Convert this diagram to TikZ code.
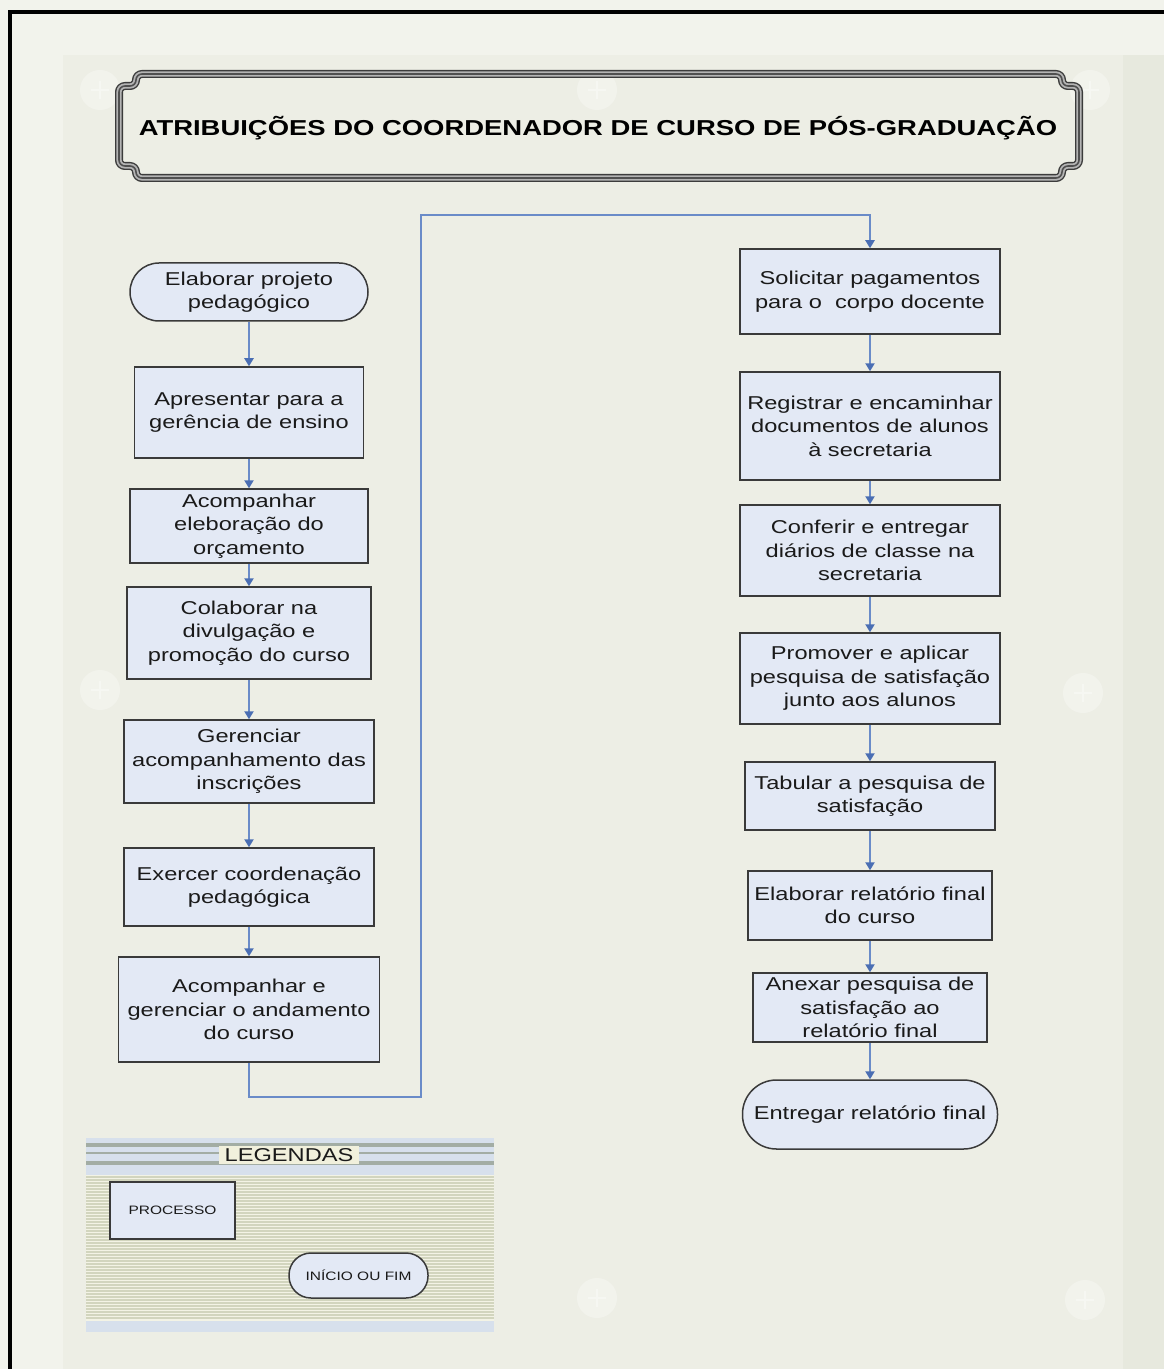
\documentclass[tikz,border=0pt]{standalone}
\usepackage{fontspec}
\setmainfont{Liberation Sans}[FakeStretch=1.27]
\usetikzlibrary{arrows.meta}

\definecolor{bgbase}{HTML}{EDEEE5}
\definecolor{bglight}{HTML}{F2F3EC}
\definecolor{bgdark}{HTML}{E7E9DE}
\definecolor{boxfill}{HTML}{E3E9F5}
\definecolor{boxline}{HTML}{3A3A3A}
\definecolor{txt}{HTML}{1A1A1A}
\definecolor{flow}{HTML}{6A8BC8}
\definecolor{flowtip}{HTML}{4A6EB3}
\definecolor{framedark}{HTML}{3C3C3C}
\definecolor{framelight}{HTML}{B4B4B4}
\definecolor{legband}{HTML}{D7E0EC}
\definecolor{legbandline}{HTML}{A3ADA4}
\definecolor{legpaper}{HTML}{F3F3E5}
\definecolor{legstripe}{HTML}{D2D5BE}
\definecolor{leglabel}{HTML}{F1F0DC}

\begin{document}
\begin{tikzpicture}[x=0.5pt,y=-0.5pt,
  wh/.style 2 args={minimum width=#1*0.5pt, minimum height=#2*0.5pt},
  proc/.style={draw=boxline, fill=boxfill, line width=0.75pt, align=center,
    inner sep=0pt, text=txt, font=\fontsize{9.3}{11.7}\selectfont},
  terminal/.style={proc, rounded corners=#1},
  flowline/.style={draw=flow, line width=0.8pt,
    -{Triangle[width=4.6pt,length=4pt,color=flowtip]}},
  smalltxt/.style={font=\fontsize{6.1}{7.5}\selectfont},
  watermark/.style={fill=white, opacity=0.3}]

% page background
\useasboundingbox (0,0) rectangle (1164,1369);
\fill[bgbase] (0,0) rectangle (1164,1369);
\fill[bglight] (0,0) rectangle (1164,55);
\fill[bglight] (0,0) rectangle (63,1369);
\fill[bgdark] (1123,55) rectangle (1164,1369);

% faint decorative discs
\foreach \cx/\cy in {100/90, 597/90, 1090/90, 100/690, 1083/693, 597/1298, 1085/1300}{
  \fill[watermark] (\cx,\cy) circle (10pt);
  \draw[white, opacity=0.35, line width=0.6pt] (\cx-9,\cy) -- (\cx+9,\cy) (\cx,\cy-9) -- (\cx,\cy+9);
}

% black edge
\draw[black, line width=2pt] (9.5,1369) -- (9.5,12) -- (1164,12);

% title frame (triple line)
\def\frameshape{(136,74) -- (1062,74) -- (1062,86) -- (1079,86) -- (1079,166) -- (1062,166)
  -- (1062,178) -- (136,178) -- (136,166) -- (119,166) -- (119,86) -- (136,86) -- cycle}
\draw[framedark, line width=4pt, rounded corners=3pt] \frameshape;
\draw[framelight, line width=2.6pt, rounded corners=3pt] \frameshape;
\draw[framedark!90, line width=0.8pt, rounded corners=3pt] \frameshape;
\node[text=black, font=\fontsize{10.8}{12}\selectfont\bfseries] (title) at (598,128)
  {ATRIBUIÇÕES DO COORDENADOR DE CURSO DE PÓS-GRADUAÇÃO};

% left column
\node[terminal=14.5pt, wh={238}{58}] (l1) at (249,292) {Elaborar projeto\\pedagógico};
\node[proc, wh={229}{91}] (l2) at (249,412.5) {Apresentar para a\\gerência de ensino};
\node[proc, wh={238}{74}] (l3) at (249,526) {Acompanhar\\eleboração do\\orçamento};
\node[proc, wh={244}{92}] (l4) at (249,633) {Colaborar na\\divulgação e\\promoção do curso};
\node[proc, wh={250}{83}] (l5) at (249,761.5) {Gerenciar\\acompanhamento das\\inscrições};
\node[proc, wh={250}{78}] (l6) at (249,887) {Exercer coordenação\\pedagógica};
\node[proc, wh={261}{105}] (l7) at (249,1009.5) {Acompanhar e\\gerenciar o andamento\\do curso};

% right column
\node[proc, wh={260}{85}] (r1) at (870,291.5) {Solicitar pagamentos\\para o \ corpo docente};
\node[proc, wh={260}{108}] (r2) at (870,426) {Registrar e encaminhar\\documentos de alunos\\à secretaria};
\node[proc, wh={260}{91}] (r3) at (870,550.5) {Conferir e entregar\\diários de classe na\\secretaria};
\node[proc, wh={260}{91}] (r4) at (870,678.5) {Promover e aplicar\\pesquisa de satisfação\\junto aos alunos};
\node[proc, wh={250}{68}] (r5) at (870,796) {Tabular a pesquisa de\\satisfação};
\node[proc, wh={244}{69}] (r6) at (870,905.5) {Elaborar relatório final\\do curso};
\node[proc, wh={234}{69}] (r7) at (870,1007.5) {Anexar pesquisa de\\satisfação ao\\relatório final};
\node[terminal=17pt, wh={255}{69}] (r8) at (870,1114.5) {Entregar relatório final};

% connectors
\foreach \a/\b in {l1/l2, l2/l3, l3/l4, l4/l5, l5/l6, l6/l7,
                   r1/r2, r2/r3, r3/r4, r4/r5, r5/r6, r6/r7, r7/r8}
  \draw[flowline] (\a.south) -- (\b.north);

\coordinate (t1) at (249,1097);
\coordinate (t2) at (421,1097);
\coordinate (t3) at (421,215);
\coordinate (t4) at (870,215);
\draw[flowline] (l7.south) -- (t1) -- (t2) -- (t3) -- (t4) -- (r1.north);

% legend panel
\fill[legband] (86,1138) rectangle (494,1175);
\fill[legbandline] (86,1143) rectangle (494,1147);
\fill[legbandline] (86,1152) rectangle (494,1154);
\fill[legbandline] (86,1161) rectangle (494,1165);
\fill[legpaper] (86,1175) rectangle (494,1321);
\foreach \yy in {1176,1179,...,1318}
  \fill[legstripe] (86,\yy) rectangle (494,\yy+1.6);
\fill[legband] (86,1321) rectangle (494,1332);
\node[fill=leglabel, inner xsep=3pt, inner ysep=1pt, text=txt,
  font=\fontsize{9.3}{11}\selectfont] (legtitle) at (289,1155) {LEGENDAS};
\node[proc, smalltxt, wh={125}{57}] (legproc) at (172.5,1210.5) {PROCESSO};
\node[terminal=11pt, smalltxt, wh={139}{45}] (legterm) at (358.5,1275.5) {INÍCIO OU FIM};

\end{tikzpicture}
\end{document}
